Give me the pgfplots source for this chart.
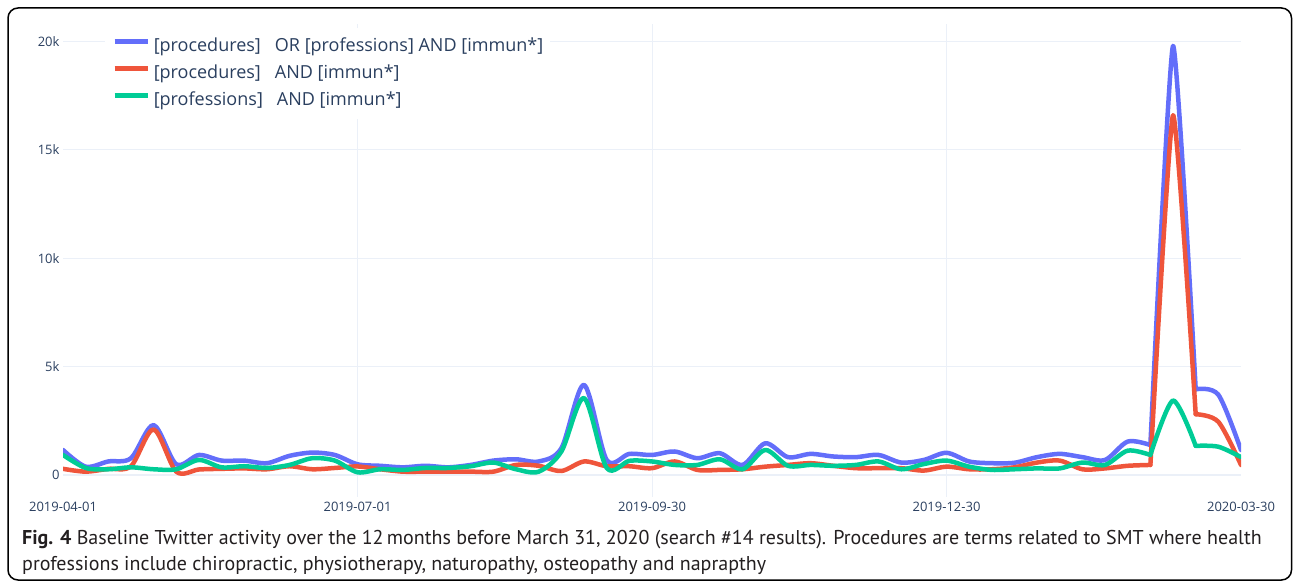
\documentclass[border=0pt]{standalone}
\usepackage{fontspec}
\setmainfont{Open Sans}
\newfontfamily\capfont{PT Sans}
\usepackage{pgfplots}
\pgfplotsset{compat=1.18}
\usepackage{pgfplotstable}

\definecolor{pblue}{HTML}{636EFA}
\definecolor{pred}{HTML}{EF553B}
\definecolor{pgreen}{HTML}{00CC96}
\definecolor{gridcol}{HTML}{EBF0F8}
\definecolor{tickcol}{HTML}{2A3F5F}
\definecolor{captext}{HTML}{231F20}

% weekly counts, day = days since 2019-04-01
\pgfplotstableread{
day  either  proc  prof
0    1150    280   920
7    380     150   320
14   620     280   260
21   770     400   350
28   2300    2100  260
35   490     150   260
42   920     250   690
49   660     280   350
56   660     300   400
63   540     260   320
70   880     400   460
77   1030    260   770
84   920     320   660
91   490     390   120
98   420     260   260
105  350     150   230
112  420     150   320
119  350     150   320
126  460     150   400
133  660     150   570
140  720     460   260
147  620     420   150
154  1230    180   1080
161  4150    620   3540
168  690     400   320
175  970     400   650
182  920     310   620
189  1080    620   460
196  770     230   460
203  1000    230   720
210  460     260   260
217  1460    380   1150
224  820     460   420
231  970     540   460
238  850     420   420
245  820     310   460
252  920     310   620
259  570     310   260
266  690     200   500
273  1020    380   660
280  620     260   380
287  540     260   230
294  560     350   260
301  820     570   300
308  970     660   300
315  820     260   570
322  690     300   460
329  1540    420   1120
336  1380    460   920
}\weekly

% the March 2020 spike, drawn with a tighter spline
\pgfplotstableread{
day  either  proc  prof
336  1380    460   920
343  19800   16600 3430
350  3950    2800  1340
}\spike

% the weeks after the spike
\pgfplotstableread{
day  either  proc  prof
350  3950    2800  1340
357  3700    2450  1300
364  1150    460   820
}\tail

\begin{document}
\begin{tikzpicture}[x=1pt,y=1pt]
\useasboundingbox (0,0) rectangle (1295,584);
\draw[line width=1.5pt, rounded corners=10pt] (8,4) rectangle (1291.5,576);

\begin{axis}[
    at={(63pt,87pt)}, anchor=south west,
    scale only axis,
    width=1178pt, height=473pt,
    xmin=0, xmax=364,
    ymin=-1020, ymax=20810,
    scaled y ticks=false,
    axis line style={draw=none},
    major tick length=0pt,
    tick style={draw=none},
    /pgf/number format/assume math mode=true,
    tick label style={font=\fontsize{13}{13}\selectfont, text=tickcol},
    xtick={0,364},
    xticklabels={2019-04-01,2020-03-30},
    extra x ticks={91,182,273},
    extra x tick labels={2019-07-01,2019-09-30,2019-12-30},
    extra x tick style={grid=major},
    xticklabel style={yshift=-1.5pt},
    ytick={5000,10000,15000,20000},
    yticklabels={5k,10k,15k,20k},
    ymajorgrids=true,
    extra y ticks={0},
    extra y tick labels={0},
    extra y tick style={grid=major, major grid style={gridcol, line width=2pt}},
    major grid style={gridcol, line width=1pt},
    legend cell align=left,
    legend image code/.code={\draw[#1, line width=4.5pt, line cap=butt] (0pt,5pt) -- (33pt,5pt);},
    legend style={at={(0.0357,0.9917)}, anchor=north west, draw=none, fill=white,
        inner xsep=7pt, inner ysep=10pt, row sep=10pt, column sep=4pt,
        font=\fontsize{18}{18}\selectfont, text=tickcol,
        nodes={inner sep=0pt, text height=13pt, text depth=4pt, text=tickcol}},
    every axis plot/.append style={line width=4.5pt, smooth, line join=round, line cap=round},
]
\addplot[pblue] table[x=day, y=either] {\weekly};
\addlegendentry{[procedures]\ \ \ OR [professions] AND [immun*]}
\addplot[pred] table[x=day, y=proc] {\weekly};
\addlegendentry{[procedures]\ \ \ AND [immun*]}
\addplot[pgreen] table[x=day, y=prof] {\weekly};
\addlegendentry{[professions]\ \ \ AND [immun*]}
\addplot[pblue, tension=0.3, forget plot] table[x=day, y=either] {\spike};
\addplot[pblue, forget plot] table[x=day, y=either] {\tail};
\addplot[pred, tension=0.3, forget plot] table[x=day, y=proc] {\spike};
\addplot[pred, forget plot] table[x=day, y=proc] {\tail};
\addplot[pgreen, tension=0.45, forget plot] table[x=day, y=prof] {\spike};
\addplot[pgreen, forget plot] table[x=day, y=prof] {\tail};
\end{axis}

\node[anchor=base west, inner sep=0pt, text=captext, font=\capfont\fontsize{20}{20}\selectfont] at (22,40)
  {\textbf{Fig. 4} Baseline Twitter activity over the 12\,months before March 31, 2020 (search \#14 results). Procedures are terms related to SMT where health};
\node[anchor=base west, inner sep=0pt, text=captext, font=\capfont\fontsize{20}{20}\selectfont] at (22,13.3)
  {professions include chiropractic, physiotherapy, naturopathy, osteopathy and naprapthy};
\end{tikzpicture}
\end{document}
